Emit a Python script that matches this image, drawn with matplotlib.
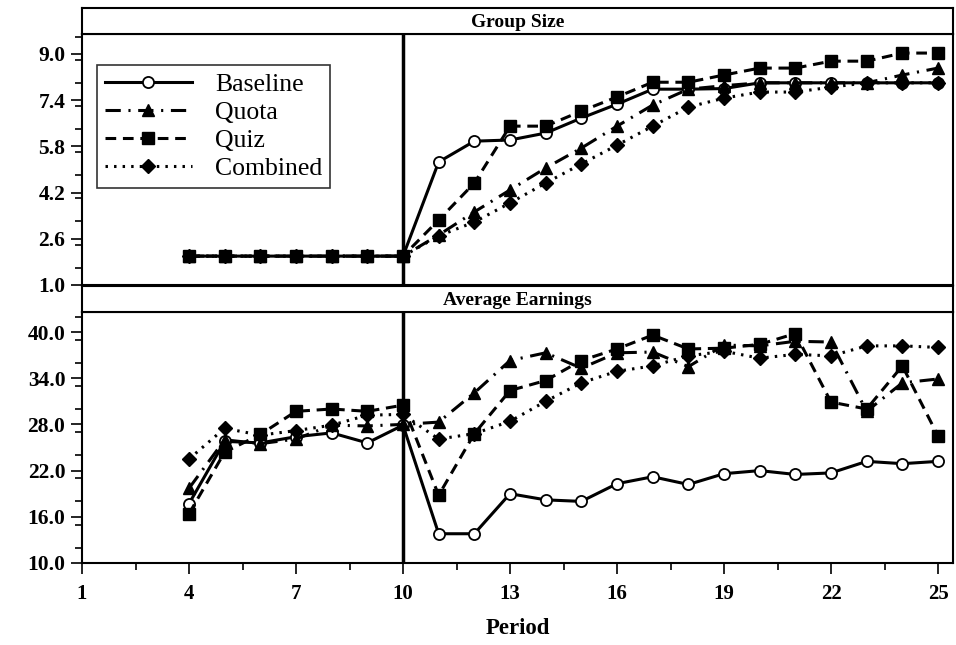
import matplotlib
matplotlib.use("Agg")
import matplotlib.pyplot as plt
from matplotlib.ticker import FixedLocator, MultipleLocator, FormatStrFormatter
from matplotlib.lines import Line2D

periods = list(range(4, 26))

size_baseline = [2.0]*7 + [5.26, 5.98, 6.02, 6.26, 6.78, 7.26, 7.78, 7.78, 7.8, 8.0, 8.0, 8.0, 8.0, 8.0, 8.0]
size_quota    = [2.0]*7 + [2.73, 3.53, 4.29, 5.05, 5.74, 6.50, 7.23, 7.78, 7.9, 8.0, 8.0, 8.0, 8.0, 8.27, 8.51]
size_quiz     = [2.0]*7 + [3.25, 4.53, 6.50, 6.50, 7.02, 7.51, 8.02, 8.02, 8.27, 8.51, 8.51, 8.75, 8.75, 9.03, 9.03]
size_combined = [2.0]*7 + [2.70, 3.18, 3.84, 4.53, 5.19, 5.84, 6.50, 7.16, 7.47, 7.68, 7.68, 7.85, 8.0, 8.0, 8.0]

earn_baseline = [17.7, 25.8, 25.6, 26.4, 26.9, 25.6, 27.9, 13.8, 13.8, 19.0, 18.2, 18.0,
                 20.3, 21.2, 20.2, 21.6, 22.0, 21.5, 21.7, 23.2, 22.9, 23.2]
earn_quota    = [19.7, 26.0, 25.5, 26.1, 27.9, 27.8, 28.0, 28.3, 32.1, 36.3, 37.3, 35.3,
                 37.3, 37.4, 35.5, 38.3, 38.2, 38.8, 38.7, 29.7, 33.4, 33.9]
earn_quiz     = [16.4, 24.4, 26.7, 29.7, 30.0, 29.7, 30.5, 18.8, 26.8, 32.4, 33.7, 36.3,
                 37.8, 39.6, 37.8, 37.9, 38.4, 39.8, 30.9, 30.0, 35.6, 26.5]
earn_combined = [23.5, 27.5, 26.6, 27.2, 27.9, 29.2, 29.3, 26.1, 26.8, 28.4, 31.0, 33.4,
                 34.9, 35.6, 36.9, 37.5, 36.6, 37.1, 36.9, 38.2, 38.2, 38.0]

series_names = ["Baseline", "Quota", "Quiz", "Combined"]
x_ticks = [1, 4, 7, 10, 13, 16, 19, 22, 25]
size_ticks = [1.0, 2.6, 4.2, 5.8, 7.4, 9.0]
earn_ticks = [10.0, 16.0, 22.0, 28.0, 34.0, 40.0]

plt.rcParams['font.family'] = ['Liberation Serif', 'DejaVu Serif']

W, H = 956, 645
fig = plt.figure(figsize=(W/100, H/100), dpi=100)

left = 82/W
right = 953/W
width = right - left

def fy(px):
    return 1 - px/H

ax1 = fig.add_axes([left, fy(285), width, fy(34) - fy(285)])
ax2 = fig.add_axes([left, fy(563), width, fy(312) - fy(563)])
st1 = fig.add_axes([left, fy(34), width, fy(8) - fy(34)])
st2 = fig.add_axes([left, fy(312), width, fy(286) - fy(312)])

for st, title in [(st1, "Group Size"), (st2, "Average Earnings")]:
    st.set_xticks([]); st.set_yticks([])
    for s in st.spines.values():
        s.set_linewidth(1.5)
    st.text(0.5, 0.45, title, transform=st.transAxes, ha='center', va='center',
            fontsize=14, fontweight='bold')

lw = 2.2
styles = {
    "Baseline": dict(linestyle='-', marker='o', markerfacecolor='white', markeredgecolor='black',
                     markersize=8, markeredgewidth=1.3),
    "Quota": dict(linestyle=(0, (5, 2.5, 0.7, 2.5)), marker='^', markerfacecolor='black',
                  markeredgecolor='black', markersize=9),
    "Quiz": dict(linestyle=(0, (3.5, 2.2)), marker='s', markerfacecolor='black',
                 markeredgecolor='black', markersize=8),
    "Combined": dict(linestyle=(0, (0.8, 2.0)), marker='D', markerfacecolor='black',
                     markeredgecolor='black', markersize=7),
}

size_data = [size_baseline, size_quota, size_quiz, size_combined]
earn_data = [earn_baseline, earn_quota, earn_quiz, earn_combined]

for ax, data in [(ax1, size_data), (ax2, earn_data)]:
    for name, vals in zip(series_names, data):
        ax.plot(periods, vals, color='black', linewidth=lw, label=name, **styles[name])
    ax.axvline(10, color='black', linewidth=2.5, zorder=0.5)
    ax.set_xlim(1, 25.42)
    for s in ax.spines.values():
        s.set_linewidth(1.5)

ax1.set_ylim(1.0, 9.69)
ax1.yaxis.set_major_locator(FixedLocator(size_ticks))
ax1.yaxis.set_minor_locator(MultipleLocator(0.8))
ax1.yaxis.set_major_formatter(FormatStrFormatter('%.1f'))
ax1.set_xticks([])
ax1.tick_params(axis='x', which='both', length=0)

ax2.set_ylim(10.0, 42.6)
ax2.yaxis.set_major_locator(FixedLocator(earn_ticks))
ax2.yaxis.set_minor_locator(MultipleLocator(3.0))
ax2.yaxis.set_major_formatter(FormatStrFormatter('%.1f'))
ax2.xaxis.set_major_locator(FixedLocator(x_ticks))
ax2.xaxis.set_minor_locator(FixedLocator([2.5 + 3*i for i in range(8)]))
ax2.set_xticklabels([str(t) for t in x_ticks])

for ax in (ax1, ax2):
    ax.tick_params(axis='y', which='major', length=8, width=1.2, direction='out', labelsize=15.5, pad=4)
    ax.tick_params(axis='y', which='minor', length=5, width=1.2, direction='out')
    for lab in ax.get_yticklabels():
        lab.set_fontweight('bold')

ax2.tick_params(axis='x', which='major', length=8, width=1.2, direction='out', labelsize=15, pad=7)
ax2.tick_params(axis='x', which='minor', length=5, width=1.2, direction='out')
for lab in ax2.get_xticklabels():
    lab.set_fontweight('bold')

ax2.set_xlabel("Period", fontsize=16.5, fontweight='bold', labelpad=10)

handles = [Line2D([0], [0], color='black', linewidth=lw, **styles[n]) for n in series_names]
leg = ax1.legend(handles, series_names, loc='upper left', bbox_to_anchor=(0.017, 0.876),
                 borderaxespad=0, frameon=True, fancybox=False, edgecolor='black',
                 handlelength=3.4, labelspacing=0.2, borderpad=0.3,
                 handletextpad=0.9, prop={'family': 'Liberation Serif', 'size': 18.5})
leg.get_frame().set_linewidth(1.2)

fig.savefig("out.png", dpi=100)
